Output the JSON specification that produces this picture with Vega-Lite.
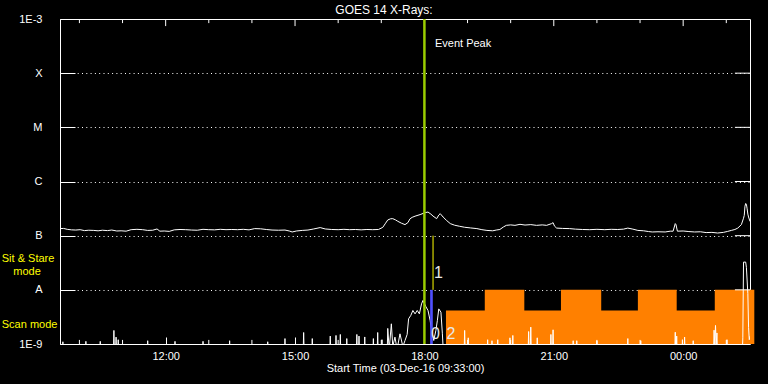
{
  "$schema": "https://vega.github.io/schema/vega-lite/v6.json",
  "autosize": {"type": "none"},
  "padding": {"left": 60, "top": 19, "right": 18, "bottom": 40},
  "width": 690,
  "height": 325,
  "background": "black",
  "title": {"text": "GOES 14 X-Rays:", "color": "white", "font": "Liberation Sans", "fontSize": 12, "fontWeight": "normal", "anchor": "middle", "dx": -21, "dy": 9, "offset": 5},
  "config": {
    "view": {"stroke": "white", "strokeWidth": 1},
    "axis": {"domain": false, "labelColor": "white", "tickColor": "white", "titleColor": "white", "labelFont": "Liberation Sans", "titleFont": "Liberation Sans", "labelFontSize": 11, "titleFontSize": 11, "titleFontWeight": "normal"}
  },
  "datasets": {
    "long": [
      {"t": "2016-12-03T09:33Z", "v": 1.35e-7}, {"t": "2016-12-03T09:38Z", "v": 1.36e-7}, {"t": "2016-12-03T09:43Z", "v": 1.31e-7},
      {"t": "2016-12-03T09:49Z", "v": 1.28e-7}, {"t": "2016-12-03T09:55Z", "v": 1.27e-7}, {"t": "2016-12-03T10:01Z", "v": 1.29e-7},
      {"t": "2016-12-03T10:07Z", "v": 1.24e-7}, {"t": "2016-12-03T10:13Z", "v": 1.26e-7}, {"t": "2016-12-03T10:20Z", "v": 1.25e-7},
      {"t": "2016-12-03T10:26Z", "v": 1.23e-7}, {"t": "2016-12-03T10:32Z", "v": 1.26e-7}, {"t": "2016-12-03T10:39Z", "v": 1.24e-7},
      {"t": "2016-12-03T10:45Z", "v": 1.27e-7}, {"t": "2016-12-03T10:52Z", "v": 1.22e-7}, {"t": "2016-12-03T10:58Z", "v": 1.23e-7},
      {"t": "2016-12-03T11:05Z", "v": 1.21e-7}, {"t": "2016-12-03T11:12Z", "v": 1.29e-7}, {"t": "2016-12-03T11:20Z", "v": 1.31e-7},
      {"t": "2016-12-03T11:28Z", "v": 1.29e-7}, {"t": "2016-12-03T11:35Z", "v": 1.25e-7}, {"t": "2016-12-03T11:42Z", "v": 1.26e-7},
      {"t": "2016-12-03T11:48Z", "v": 1.33e-7}, {"t": "2016-12-03T11:52Z", "v": 1.21e-7}, {"t": "2016-12-03T11:58Z", "v": 1.22e-7},
      {"t": "2016-12-03T12:05Z", "v": 1.20e-7}, {"t": "2016-12-03T12:12Z", "v": 1.28e-7}, {"t": "2016-12-03T12:20Z", "v": 1.30e-7},
      {"t": "2016-12-03T12:28Z", "v": 1.29e-7}, {"t": "2016-12-03T12:36Z", "v": 1.27e-7}, {"t": "2016-12-03T12:44Z", "v": 1.26e-7},
      {"t": "2016-12-03T12:52Z", "v": 1.31e-7}, {"t": "2016-12-03T13:00Z", "v": 1.29e-7}, {"t": "2016-12-03T13:08Z", "v": 1.28e-7},
      {"t": "2016-12-03T13:16Z", "v": 1.31e-7}, {"t": "2016-12-03T13:24Z", "v": 1.29e-7}, {"t": "2016-12-03T13:32Z", "v": 1.30e-7},
      {"t": "2016-12-03T13:40Z", "v": 1.29e-7}, {"t": "2016-12-03T13:48Z", "v": 1.31e-7}, {"t": "2016-12-03T13:56Z", "v": 1.28e-7},
      {"t": "2016-12-03T14:04Z", "v": 1.35e-7}, {"t": "2016-12-03T14:12Z", "v": 1.34e-7}, {"t": "2016-12-03T14:20Z", "v": 1.30e-7},
      {"t": "2016-12-03T14:28Z", "v": 1.27e-7}, {"t": "2016-12-03T14:37Z", "v": 1.26e-7}, {"t": "2016-12-03T14:46Z", "v": 1.27e-7},
      {"t": "2016-12-03T14:52Z", "v": 1.22e-7}, {"t": "2016-12-03T14:56Z", "v": 1.17e-7}, {"t": "2016-12-03T15:02Z", "v": 1.22e-7},
      {"t": "2016-12-03T15:10Z", "v": 1.25e-7}, {"t": "2016-12-03T15:18Z", "v": 1.27e-7}, {"t": "2016-12-03T15:26Z", "v": 1.33e-7},
      {"t": "2016-12-03T15:35Z", "v": 1.41e-7}, {"t": "2016-12-03T15:42Z", "v": 1.33e-7}, {"t": "2016-12-03T15:51Z", "v": 1.30e-7},
      {"t": "2016-12-03T16:00Z", "v": 1.29e-7}, {"t": "2016-12-03T16:08Z", "v": 1.31e-7}, {"t": "2016-12-03T16:16Z", "v": 1.29e-7},
      {"t": "2016-12-03T16:24Z", "v": 1.30e-7}, {"t": "2016-12-03T16:32Z", "v": 1.28e-7}, {"t": "2016-12-03T16:40Z", "v": 1.30e-7},
      {"t": "2016-12-03T16:48Z", "v": 1.29e-7}, {"t": "2016-12-03T16:56Z", "v": 1.30e-7}, {"t": "2016-12-03T17:02Z", "v": 1.42e-7},
      {"t": "2016-12-03T17:06Z", "v": 1.70e-7}, {"t": "2016-12-03T17:09Z", "v": 1.95e-7}, {"t": "2016-12-03T17:13Z", "v": 2.05e-7},
      {"t": "2016-12-03T17:16Z", "v": 2.06e-7}, {"t": "2016-12-03T17:20Z", "v": 1.95e-7}, {"t": "2016-12-03T17:23Z", "v": 1.84e-7},
      {"t": "2016-12-03T17:28Z", "v": 1.70e-7}, {"t": "2016-12-03T17:33Z", "v": 1.60e-7}, {"t": "2016-12-03T17:37Z", "v": 1.74e-7},
      {"t": "2016-12-03T17:40Z", "v": 2.05e-7}, {"t": "2016-12-03T17:43Z", "v": 2.18e-7}, {"t": "2016-12-03T17:47Z", "v": 2.29e-7},
      {"t": "2016-12-03T17:54Z", "v": 2.45e-7}, {"t": "2016-12-03T18:01Z", "v": 2.66e-7}, {"t": "2016-12-03T18:05Z", "v": 2.73e-7},
      {"t": "2016-12-03T18:09Z", "v": 2.50e-7}, {"t": "2016-12-03T18:12Z", "v": 2.30e-7}, {"t": "2016-12-03T18:17Z", "v": 2.06e-7},
      {"t": "2016-12-03T18:20Z", "v": 2.40e-7}, {"t": "2016-12-03T18:22Z", "v": 2.55e-7}, {"t": "2016-12-03T18:26Z", "v": 2.21e-7},
      {"t": "2016-12-03T18:31Z", "v": 1.90e-7}, {"t": "2016-12-03T18:36Z", "v": 1.67e-7}, {"t": "2016-12-03T18:42Z", "v": 1.56e-7},
      {"t": "2016-12-03T18:49Z", "v": 1.49e-7}, {"t": "2016-12-03T18:56Z", "v": 1.43e-7}, {"t": "2016-12-03T19:04Z", "v": 1.39e-7},
      {"t": "2016-12-03T19:13Z", "v": 1.35e-7}, {"t": "2016-12-03T19:20Z", "v": 1.29e-7}, {"t": "2016-12-03T19:27Z", "v": 1.25e-7},
      {"t": "2016-12-03T19:35Z", "v": 1.23e-7}, {"t": "2016-12-03T19:40Z", "v": 1.27e-7}, {"t": "2016-12-03T19:45Z", "v": 1.30e-7},
      {"t": "2016-12-03T19:50Z", "v": 1.45e-7}, {"t": "2016-12-03T19:54Z", "v": 1.55e-7}, {"t": "2016-12-03T20:00Z", "v": 1.58e-7},
      {"t": "2016-12-03T20:06Z", "v": 1.55e-7}, {"t": "2016-12-03T20:13Z", "v": 1.62e-7}, {"t": "2016-12-03T20:20Z", "v": 1.57e-7},
      {"t": "2016-12-03T20:28Z", "v": 1.60e-7}, {"t": "2016-12-03T20:36Z", "v": 1.55e-7}, {"t": "2016-12-03T20:44Z", "v": 1.58e-7},
      {"t": "2016-12-03T20:50Z", "v": 1.55e-7}, {"t": "2016-12-03T20:57Z", "v": 1.67e-7}, {"t": "2016-12-03T20:59Z", "v": 1.74e-7},
      {"t": "2016-12-03T21:01Z", "v": 1.50e-7}, {"t": "2016-12-03T21:04Z", "v": 1.38e-7}, {"t": "2016-12-03T21:12Z", "v": 1.36e-7},
      {"t": "2016-12-03T21:22Z", "v": 1.35e-7}, {"t": "2016-12-03T21:30Z", "v": 1.32e-7}, {"t": "2016-12-03T21:40Z", "v": 1.30e-7},
      {"t": "2016-12-03T21:50Z", "v": 1.29e-7}, {"t": "2016-12-03T22:00Z", "v": 1.31e-7}, {"t": "2016-12-03T22:11Z", "v": 1.29e-7},
      {"t": "2016-12-03T22:20Z", "v": 1.31e-7}, {"t": "2016-12-03T22:29Z", "v": 1.30e-7}, {"t": "2016-12-03T22:37Z", "v": 1.32e-7},
      {"t": "2016-12-03T22:43Z", "v": 1.38e-7}, {"t": "2016-12-03T22:50Z", "v": 1.32e-7}, {"t": "2016-12-03T22:57Z", "v": 1.25e-7},
      {"t": "2016-12-03T23:05Z", "v": 1.23e-7}, {"t": "2016-12-03T23:12Z", "v": 1.19e-7}, {"t": "2016-12-03T23:17Z", "v": 1.17e-7},
      {"t": "2016-12-03T23:25Z", "v": 1.18e-7}, {"t": "2016-12-03T23:35Z", "v": 1.17e-7}, {"t": "2016-12-03T23:42Z", "v": 1.21e-7},
      {"t": "2016-12-03T23:46Z", "v": 1.21e-7}, {"t": "2016-12-03T23:49Z", "v": 1.67e-7}, {"t": "2016-12-03T23:50Z", "v": 1.60e-7},
      {"t": "2016-12-03T23:52Z", "v": 1.21e-7}, {"t": "2016-12-04T00:00Z", "v": 1.22e-7}, {"t": "2016-12-04T00:08Z", "v": 1.19e-7},
      {"t": "2016-12-04T00:16Z", "v": 1.17e-7}, {"t": "2016-12-04T00:24Z", "v": 1.18e-7}, {"t": "2016-12-04T00:32Z", "v": 1.14e-7},
      {"t": "2016-12-04T00:40Z", "v": 1.15e-7}, {"t": "2016-12-04T00:48Z", "v": 1.12e-7}, {"t": "2016-12-04T00:56Z", "v": 1.15e-7},
      {"t": "2016-12-04T01:02Z", "v": 1.20e-7}, {"t": "2016-12-04T01:07Z", "v": 1.25e-7}, {"t": "2016-12-04T01:12Z", "v": 1.30e-7},
      {"t": "2016-12-04T01:16Z", "v": 1.38e-7}, {"t": "2016-12-04T01:21Z", "v": 1.60e-7}, {"t": "2016-12-04T01:24Z", "v": 2.10e-7},
      {"t": "2016-12-04T01:25Z", "v": 2.37e-7}, {"t": "2016-12-04T01:26Z", "v": 3.50e-7}, {"t": "2016-12-04T01:27Z", "v": 3.93e-7},
      {"t": "2016-12-04T01:28Z", "v": 3.80e-7}, {"t": "2016-12-04T01:29Z", "v": 3.13e-7}, {"t": "2016-12-04T01:30Z", "v": 2.50e-7},
      {"t": "2016-12-04T01:31Z", "v": 2.21e-7}, {"t": "2016-12-04T01:33Z", "v": 1.83e-7}
    ],
    "short": [
      {"t": "2016-12-03T09:33Z", "v": 5e-10}, {"t": "2016-12-03T09:36Z", "v": 5e-10}, {"t": "2016-12-03T09:37Z", "v": 1.1e-9}, {"t": "2016-12-03T09:38Z", "v": 5e-10},
      {"t": "2016-12-03T10:08Z", "v": 5e-10}, {"t": "2016-12-03T10:09Z", "v": 1.12e-9}, {"t": "2016-12-03T10:10Z", "v": 5e-10},
      {"t": "2016-12-03T10:28Z", "v": 5e-10}, {"t": "2016-12-03T10:29Z", "v": 1.12e-9}, {"t": "2016-12-03T10:30Z", "v": 5e-10},
      {"t": "2016-12-03T10:47Z", "v": 5e-10}, {"t": "2016-12-03T10:48Z", "v": 1.78e-9}, {"t": "2016-12-03T10:49Z", "v": 5e-10},
      {"t": "2016-12-03T10:50Z", "v": 5e-10}, {"t": "2016-12-03T10:51Z", "v": 1.34e-9}, {"t": "2016-12-03T10:52Z", "v": 5e-10},
      {"t": "2016-12-03T10:53Z", "v": 5e-10}, {"t": "2016-12-03T10:54Z", "v": 1.2e-9}, {"t": "2016-12-03T10:55Z", "v": 5e-10},
      {"t": "2016-12-03T11:34Z", "v": 5e-10}, {"t": "2016-12-03T11:35Z", "v": 1.15e-9}, {"t": "2016-12-03T11:36Z", "v": 5e-10},
      {"t": "2016-12-03T12:12Z", "v": 5e-10}, {"t": "2016-12-03T12:13Z", "v": 1.12e-9}, {"t": "2016-12-03T12:14Z", "v": 5e-10},
      {"t": "2016-12-03T12:51Z", "v": 5e-10}, {"t": "2016-12-03T12:52Z", "v": 1.12e-9}, {"t": "2016-12-03T12:53Z", "v": 5e-10},
      {"t": "2016-12-03T13:28Z", "v": 5e-10}, {"t": "2016-12-03T13:29Z", "v": 1.15e-9}, {"t": "2016-12-03T13:30Z", "v": 5e-10},
      {"t": "2016-12-03T14:21Z", "v": 5e-10}, {"t": "2016-12-03T14:22Z", "v": 1.1e-9}, {"t": "2016-12-03T14:23Z", "v": 5e-10},
      {"t": "2016-12-03T14:45Z", "v": 5e-10}, {"t": "2016-12-03T14:46Z", "v": 1.26e-9}, {"t": "2016-12-03T14:47Z", "v": 5e-10},
      {"t": "2016-12-03T15:11Z", "v": 5e-10}, {"t": "2016-12-03T15:12Z", "v": 1.63e-9}, {"t": "2016-12-03T15:13Z", "v": 5e-10},
      {"t": "2016-12-03T15:23Z", "v": 5e-10}, {"t": "2016-12-03T15:24Z", "v": 1.26e-9}, {"t": "2016-12-03T15:25Z", "v": 5e-10},
      {"t": "2016-12-03T15:48Z", "v": 5e-10}, {"t": "2016-12-03T15:49Z", "v": 1.4e-9}, {"t": "2016-12-03T15:50Z", "v": 5e-10},
      {"t": "2016-12-03T15:56Z", "v": 5e-10}, {"t": "2016-12-03T15:57Z", "v": 1.44e-9}, {"t": "2016-12-03T15:58Z", "v": 5e-10},
      {"t": "2016-12-03T16:02Z", "v": 5e-10}, {"t": "2016-12-03T16:03Z", "v": 1.5e-9}, {"t": "2016-12-03T16:04Z", "v": 5e-10},
      {"t": "2016-12-03T16:11Z", "v": 5e-10}, {"t": "2016-12-03T16:12Z", "v": 1.26e-9}, {"t": "2016-12-03T16:13Z", "v": 5e-10},
      {"t": "2016-12-03T16:25Z", "v": 5e-10}, {"t": "2016-12-03T16:26Z", "v": 1.5e-9}, {"t": "2016-12-03T16:27Z", "v": 5e-10},
      {"t": "2016-12-03T16:28Z", "v": 5e-10}, {"t": "2016-12-03T16:29Z", "v": 1.4e-9}, {"t": "2016-12-03T16:30Z", "v": 5e-10},
      {"t": "2016-12-03T16:36Z", "v": 5e-10}, {"t": "2016-12-03T16:37Z", "v": 1.35e-9}, {"t": "2016-12-03T16:38Z", "v": 5e-10},
      {"t": "2016-12-03T16:48Z", "v": 5e-10}, {"t": "2016-12-03T16:49Z", "v": 1.26e-9}, {"t": "2016-12-03T16:50Z", "v": 5e-10},
      {"t": "2016-12-03T16:54Z", "v": 5e-10}, {"t": "2016-12-03T16:55Z", "v": 1.63e-9}, {"t": "2016-12-03T16:56Z", "v": 5e-10},
      {"t": "2016-12-03T17:00Z", "v": 5e-10}, {"t": "2016-12-03T17:01Z", "v": 1.2e-9}, {"t": "2016-12-03T17:02Z", "v": 5e-10},
      {"t": "2016-12-03T17:08Z", "v": 5e-10}, {"t": "2016-12-03T17:09Z", "v": 1.94e-9}, {"t": "2016-12-03T17:11Z", "v": 8e-10},
      {"t": "2016-12-03T17:14Z", "v": 2.36e-9}, {"t": "2016-12-03T17:16Z", "v": 9e-10}, {"t": "2016-12-03T17:19Z", "v": 1.34e-9},
      {"t": "2016-12-03T17:22Z", "v": 8e-10}, {"t": "2016-12-03T17:26Z", "v": 1.54e-9}, {"t": "2016-12-03T17:30Z", "v": 9e-10},
      {"t": "2016-12-03T17:33Z", "v": 1.16e-9}, {"t": "2016-12-03T17:36Z", "v": 1.5e-9}, {"t": "2016-12-03T17:38Z", "v": 2.92e-9},
      {"t": "2016-12-03T17:41Z", "v": 3.36e-9}, {"t": "2016-12-03T17:44Z", "v": 4.16e-9}, {"t": "2016-12-03T17:47Z", "v": 3.6e-9},
      {"t": "2016-12-03T17:50Z", "v": 4.16e-9}, {"t": "2016-12-03T17:53Z", "v": 3.6e-9}, {"t": "2016-12-03T17:56Z", "v": 5.5e-9},
      {"t": "2016-12-03T17:58Z", "v": 6.37e-9}, {"t": "2016-12-03T18:02Z", "v": 4.9e-9}, {"t": "2016-12-03T18:05Z", "v": 4.16e-9},
      {"t": "2016-12-03T18:08Z", "v": 2.7e-9}, {"t": "2016-12-03T18:10Z", "v": 1.78e-9}, {"t": "2016-12-03T18:13Z", "v": 1.16e-9},
      {"t": "2016-12-03T18:16Z", "v": 1.78e-9}, {"t": "2016-12-03T18:18Z", "v": 2.7e-9}, {"t": "2016-12-03T18:20Z", "v": 4.45e-9},
      {"t": "2016-12-03T18:23Z", "v": 3.86e-9}, {"t": "2016-12-03T18:25Z", "v": 1.54e-9}, {"t": "2016-12-03T18:27Z", "v": 5e-10},
      {"t": "2016-12-03T18:55Z", "v": 5e-10}, {"t": "2016-12-03T18:56Z", "v": 1.78e-9}, {"t": "2016-12-03T18:57Z", "v": 5e-10},
      {"t": "2016-12-03T19:00Z", "v": 5e-10}, {"t": "2016-12-03T19:01Z", "v": 1.3e-9}, {"t": "2016-12-03T19:02Z", "v": 5e-10},
      {"t": "2016-12-03T19:27Z", "v": 5e-10}, {"t": "2016-12-03T19:28Z", "v": 1.2e-9}, {"t": "2016-12-03T19:29Z", "v": 5e-10},
      {"t": "2016-12-03T19:33Z", "v": 5e-10}, {"t": "2016-12-03T19:34Z", "v": 1.15e-9}, {"t": "2016-12-03T19:35Z", "v": 5e-10},
      {"t": "2016-12-03T19:41Z", "v": 5e-10}, {"t": "2016-12-03T19:42Z", "v": 1.2e-9}, {"t": "2016-12-03T19:43Z", "v": 5e-10},
      {"t": "2016-12-03T19:58Z", "v": 5e-10}, {"t": "2016-12-03T19:59Z", "v": 1.3e-9}, {"t": "2016-12-03T20:00Z", "v": 5e-10},
      {"t": "2016-12-03T20:02Z", "v": 5e-10}, {"t": "2016-12-03T20:03Z", "v": 1.44e-9}, {"t": "2016-12-03T20:04Z", "v": 5e-10},
      {"t": "2016-12-03T20:24Z", "v": 5e-10}, {"t": "2016-12-03T20:25Z", "v": 1.7e-9}, {"t": "2016-12-03T20:26Z", "v": 5e-10},
      {"t": "2016-12-03T20:27Z", "v": 5e-10}, {"t": "2016-12-03T20:28Z", "v": 2.05e-9}, {"t": "2016-12-03T20:29Z", "v": 5e-10},
      {"t": "2016-12-03T20:36Z", "v": 5e-10}, {"t": "2016-12-03T20:37Z", "v": 1.3e-9}, {"t": "2016-12-03T20:38Z", "v": 5e-10},
      {"t": "2016-12-03T20:55Z", "v": 5e-10}, {"t": "2016-12-03T20:56Z", "v": 1.5e-9}, {"t": "2016-12-03T20:57Z", "v": 5e-10},
      {"t": "2016-12-03T20:58Z", "v": 5e-10}, {"t": "2016-12-03T20:59Z", "v": 1.83e-9}, {"t": "2016-12-03T21:00Z", "v": 5e-10},
      {"t": "2016-12-03T21:26Z", "v": 5e-10}, {"t": "2016-12-03T21:27Z", "v": 1.15e-9}, {"t": "2016-12-03T21:28Z", "v": 5e-10},
      {"t": "2016-12-03T21:31Z", "v": 5e-10}, {"t": "2016-12-03T21:32Z", "v": 1.15e-9}, {"t": "2016-12-03T21:33Z", "v": 5e-10},
      {"t": "2016-12-03T21:59Z", "v": 5e-10}, {"t": "2016-12-03T22:00Z", "v": 1.15e-9}, {"t": "2016-12-03T22:01Z", "v": 5e-10},
      {"t": "2016-12-03T22:42Z", "v": 5e-10}, {"t": "2016-12-03T22:43Z", "v": 1.26e-9}, {"t": "2016-12-03T22:44Z", "v": 5e-10},
      {"t": "2016-12-03T23:00Z", "v": 5e-10}, {"t": "2016-12-03T23:01Z", "v": 1.15e-9}, {"t": "2016-12-03T23:02Z", "v": 5e-10},
      {"t": "2016-12-03T23:48Z", "v": 5e-10}, {"t": "2016-12-03T23:49Z", "v": 1.65e-9}, {"t": "2016-12-03T23:50Z", "v": 5e-10},
      {"t": "2016-12-03T23:51Z", "v": 1.4e-9}, {"t": "2016-12-03T23:52Z", "v": 5e-10},
      {"t": "2016-12-03T23:58Z", "v": 5e-10}, {"t": "2016-12-03T23:59Z", "v": 1.2e-9}, {"t": "2016-12-04T00:00Z", "v": 5e-10},
      {"t": "2016-12-04T00:01Z", "v": 5e-10}, {"t": "2016-12-04T00:02Z", "v": 1.34e-9}, {"t": "2016-12-04T00:03Z", "v": 5e-10},
      {"t": "2016-12-04T00:13Z", "v": 5e-10}, {"t": "2016-12-04T00:14Z", "v": 1.15e-9}, {"t": "2016-12-04T00:15Z", "v": 5e-10},
      {"t": "2016-12-04T00:42Z", "v": 5e-10}, {"t": "2016-12-04T00:43Z", "v": 1.8e-9}, {"t": "2016-12-04T00:44Z", "v": 1.0e-9},
      {"t": "2016-12-04T00:45Z", "v": 2.2e-9}, {"t": "2016-12-04T00:46Z", "v": 1.0e-9}, {"t": "2016-12-04T00:47Z", "v": 1.6e-9},
      {"t": "2016-12-04T00:48Z", "v": 5e-10},
      {"t": "2016-12-04T01:00Z", "v": 5e-10}, {"t": "2016-12-04T01:01Z", "v": 1.2e-9}, {"t": "2016-12-04T01:02Z", "v": 5e-10},
      {"t": "2016-12-04T01:22Z", "v": 5e-10}, {"t": "2016-12-04T01:23Z", "v": 1.3e-9}, {"t": "2016-12-04T01:24Z", "v": 3.25e-8},
      {"t": "2016-12-04T01:27Z", "v": 3.25e-8}, {"t": "2016-12-04T01:28Z", "v": 2.6e-8}, {"t": "2016-12-04T01:30Z", "v": 8.5e-9},
      {"t": "2016-12-04T01:31Z", "v": 2e-9}, {"t": "2016-12-04T01:32Z", "v": 1.2e-9}, {"t": "2016-12-04T01:33Z", "v": 1.4e-9}
    ],
    "modes": [
      {"t": "2016-12-03T18:30Z", "v": 4.16e-9},
      {"t": "2016-12-03T19:24Z", "v": 1e-8},
      {"t": "2016-12-03T20:19Z", "v": 4.16e-9},
      {"t": "2016-12-03T21:10Z", "v": 1e-8},
      {"t": "2016-12-03T22:06Z", "v": 4.16e-9},
      {"t": "2016-12-03T22:57Z", "v": 1e-8},
      {"t": "2016-12-03T23:51Z", "v": 4.16e-9},
      {"t": "2016-12-04T00:44Z", "v": 1e-8},
      {"t": "2016-12-04T01:39Z", "v": 1e-8}
    ],
    "hours": [
      {"t": "2016-12-03T10:00Z"}, {"t": "2016-12-03T11:00Z"}, {"t": "2016-12-03T13:00Z"}, {"t": "2016-12-03T14:00Z"},
      {"t": "2016-12-03T16:00Z"}, {"t": "2016-12-03T17:00Z"}, {"t": "2016-12-03T19:00Z"}, {"t": "2016-12-03T20:00Z"},
      {"t": "2016-12-03T22:00Z"}, {"t": "2016-12-03T23:00Z"}, {"t": "2016-12-04T01:00Z"}
    ],
    "majors": [
      {"t": "2016-12-03T12:00Z"}, {"t": "2016-12-03T15:00Z"}, {"t": "2016-12-03T18:00Z"}, {"t": "2016-12-03T21:00Z"}, {"t": "2016-12-04T00:00Z"}
    ],
    "levels": [
      {"v": 1e-8}, {"v": 1e-7}, {"v": 1e-6}, {"v": 1e-5}, {"v": 1e-4}
    ]
  },
  "layer": [
    {
      "data": {"name": "modes"},
      "mark": {"type": "area", "color": "#ff8000", "interpolate": "step-after", "clip": false},
      "encoding": {
        "x": {"field": "t", "type": "temporal",
          "scale": {"type": "utc", "domain": [{"year": 2016, "month": 12, "date": 3, "hours": 9, "minutes": 33, "utc": true}, {"year": 2016, "month": 12, "date": 4, "hours": 1, "minutes": 33, "utc": true}]},
          "axis": {"orient": "bottom", "title": "Start Time (03-Dec-16 09:33:00)", "titlePadding": 1, "grid": false,
            "tickCount": 6, "format": "%H:%M",
            "tickSize": 7, "offset": -7, "labelPadding": 6, "labelFlush": false}},
        "y": {"field": "v", "type": "quantitative",
          "scale": {"type": "log", "domain": [1e-9, 1e-3]},
          "axis": {"orient": "left", "title": null, "values": [1e-9, 1e-8, 1e-7, 1e-6, 1e-5, 1e-4, 1e-3],
            "labelExpr": "datum.value > 0.0005 ? '1E-3' : datum.value > 0.00005 ? 'X' : datum.value > 0.000005 ? 'M' : datum.value > 0.0000005 ? 'C' : datum.value > 0.00000005 ? 'B' : datum.value > 0.000000005 ? 'A' : '1E-9'",
            "grid": true, "gridColor": "white", "gridDash": [1, 3.3], "gridWidth": 1,
            "tickSize": 15, "offset": -15, "labelPadding": 18}},
        "y2": {"datum": 1e-9}
      }
    },
    {
      "data": {"name": "long"},
      "mark": {"type": "line", "color": "white", "strokeWidth": 1, "clip": true},
      "encoding": {
        "x": {"field": "t", "type": "temporal"},
        "y": {"field": "v", "type": "quantitative"}
      }
    },
    {
      "data": {"name": "short"},
      "mark": {"type": "line", "color": "white", "strokeWidth": 1, "clip": true},
      "encoding": {
        "x": {"field": "t", "type": "temporal"},
        "y": {"field": "v", "type": "quantitative"}
      }
    },
    {
      "data": {"name": "hours"},
      "mark": {"type": "rule", "color": "white", "strokeWidth": 1},
      "encoding": {
        "x": {"field": "t", "type": "temporal"},
        "y": {"datum": 1e-3},
        "y2": {"datum": 8.4e-4}
      }
    },
    {
      "data": {"name": "hours"},
      "mark": {"type": "rule", "color": "white", "strokeWidth": 1},
      "encoding": {
        "x": {"field": "t", "type": "temporal"},
        "y": {"datum": 1e-9},
        "y2": {"datum": 1.19e-9}
      }
    },
    {
      "data": {"name": "majors"},
      "mark": {"type": "rule", "color": "white", "strokeWidth": 1},
      "encoding": {
        "x": {"field": "t", "type": "temporal"},
        "y": {"datum": 1e-3},
        "y2": {"datum": 7.4e-4}
      }
    },
    {
      "data": {"name": "levels"},
      "mark": {"type": "rule", "color": "white", "strokeWidth": 1},
      "encoding": {
        "x": {"datum": {"year": 2016, "month": 12, "date": 4, "hours": 1, "minutes": 12, "utc": true}, "type": "temporal"},
        "x2": {"datum": {"year": 2016, "month": 12, "date": 4, "hours": 1, "minutes": 33, "utc": true}},
        "y": {"field": "v", "type": "quantitative"}
      }
    },
    {
      "data": {"values": [{"s": "2016-12-03T18:08Z", "e": "2016-12-03T18:11:40Z", "top": 1e-8, "bottom": 1e-9}]},
      "mark": {"type": "rect", "color": "#5050ff"},
      "encoding": {
        "x": {"field": "s", "type": "temporal"},
        "x2": {"field": "e"},
        "y": {"field": "top", "type": "quantitative"},
        "y2": {"field": "bottom"}
      }
    },
    {
      "data": {"values": [{"t": "2016-12-03T18:12Z", "top": 1e-7, "bottom": 1e-8}]},
      "mark": {"type": "rule", "color": "#ffff00", "strokeWidth": 1},
      "encoding": {
        "x": {"field": "t", "type": "temporal"},
        "y": {"field": "top", "type": "quantitative"},
        "y2": {"field": "bottom"}
      }
    },
    {
      "data": {"values": [{"t": "2016-12-03T18:00Z"}]},
      "mark": {"type": "rule", "color": "#9acd00", "strokeWidth": 2.5},
      "encoding": {
        "x": {"field": "t", "type": "temporal"}
      }
    },
    {
      "data": {"values": [
        {"label": "Sit & Stare", "t": "2016-12-03T08:12Z", "v": 3.7e-8},
        {"label": "mode", "t": "2016-12-03T08:28Z", "v": 2.15e-8},
        {"label": "Scan mode", "t": "2016-12-03T08:12Z", "v": 2.29e-9}
      ]},
      "mark": {"type": "text", "color": "#ffff00", "align": "left", "baseline": "middle", "font": "Liberation Sans", "fontSize": 11, "clip": false},
      "encoding": {
        "x": {"field": "t", "type": "temporal"},
        "y": {"field": "v", "type": "quantitative"},
        "text": {"field": "label"}
      }
    },
    {
      "data": {"values": [
        {"label": "Event Peak", "t": "2016-12-03T18:14:40Z", "v": 3.52e-4}
      ]},
      "mark": {"type": "text", "color": "white", "align": "left", "baseline": "middle", "font": "Liberation Sans", "fontSize": 11},
      "encoding": {
        "x": {"field": "t", "type": "temporal"},
        "y": {"field": "v", "type": "quantitative"},
        "text": {"field": "label"}
      }
    },
    {
      "data": {"values": [
        {"label": "1", "t": "2016-12-03T18:19:36Z", "v": 2.06e-8},
        {"label": "0", "t": "2016-12-03T18:15:24Z", "v": 1.54e-9},
        {"label": "2", "t": "2016-12-03T18:37:00Z", "v": 1.54e-9}
      ]},
      "mark": {"type": "text", "color": "#e8e8e8", "align": "center", "baseline": "middle", "font": "Liberation Sans", "fontSize": 16},
      "encoding": {
        "x": {"field": "t", "type": "temporal"},
        "y": {"field": "v", "type": "quantitative"},
        "text": {"field": "label"}
      }
    }
  ]
}
